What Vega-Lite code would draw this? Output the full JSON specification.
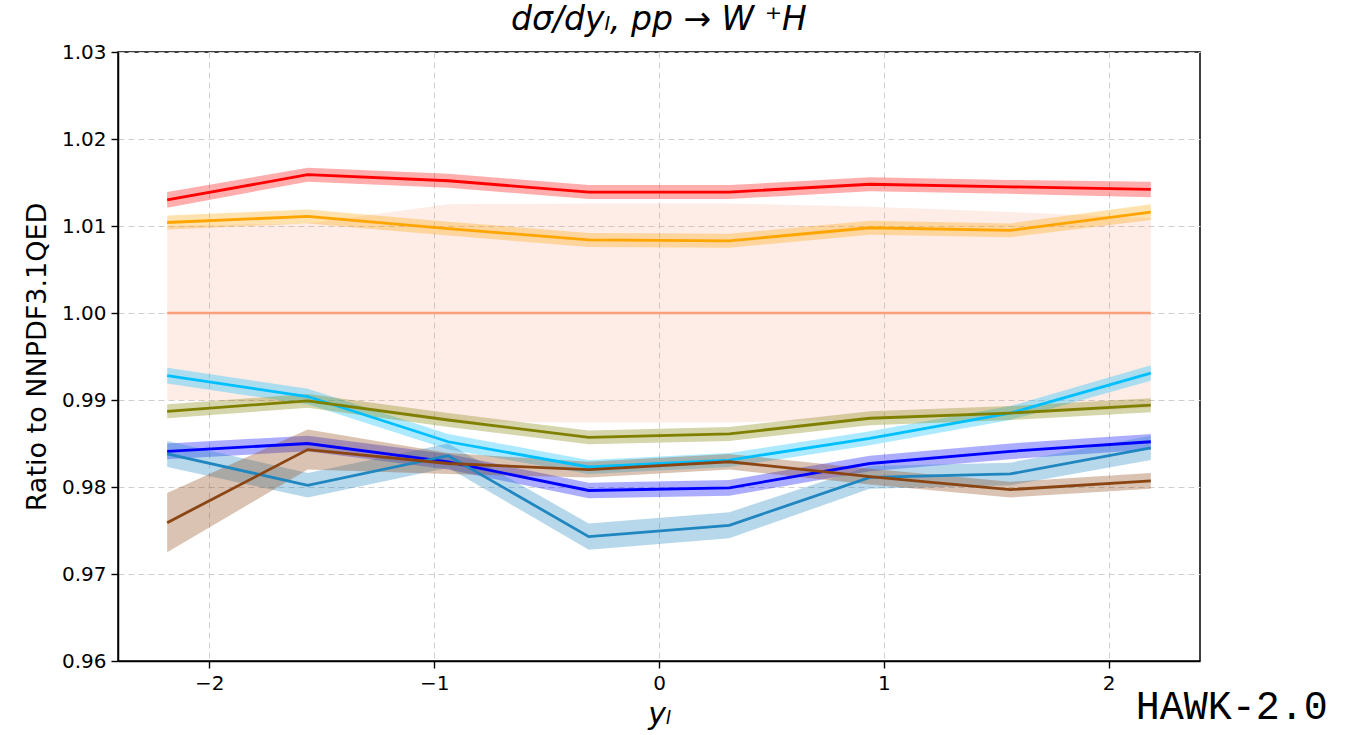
{
  "$schema": "https://vega.github.io/schema/vega-lite/v6.json",
  "width": 1082,
  "height": 609,
  "autosize": "none",
  "padding": {"left": 118, "top": 52, "right": 162, "bottom": 74},
  "background": "white",
  "title": {
    "text": "dσ/dyₗ,  pp → W ⁺H",
    "font": "DejaVu Sans",
    "fontSize": 33,
    "fontStyle": "italic",
    "fontWeight": "normal",
    "color": "black",
    "anchor": "middle",
    "offset": 5
  },
  "config": {
    "view": {"stroke": "black", "strokeWidth": 1.5},
    "axis": {
      "domainColor": "black",
      "domainWidth": 1.5,
      "tickColor": "black",
      "tickSize": 7,
      "tickWidth": 1.4,
      "labelColor": "black",
      "labelFont": "DejaVu Sans",
      "labelFontSize": 20,
      "titleFont": "DejaVu Sans",
      "titleColor": "black",
      "titleFontWeight": "normal",
      "gridColor": "#cfcfcf",
      "gridDash": [6, 4],
      "gridWidth": 1
    }
  },
  "datasets": {
    "central": [
      {"x": -2.1875, "y": 1.0, "lo": 0.9900, "hi": 1.0100},
      {"x": -1.5625, "y": 1.0, "lo": 0.9897, "hi": 1.0103},
      {"x": -0.9375, "y": 1.0, "lo": 0.9875, "hi": 1.0125},
      {"x": -0.3125, "y": 1.0, "lo": 0.9874, "hi": 1.0126},
      {"x": 0.3125, "y": 1.0, "lo": 0.9874, "hi": 1.0126},
      {"x": 0.9375, "y": 1.0, "lo": 0.9878, "hi": 1.0122},
      {"x": 1.5625, "y": 1.0, "lo": 0.9884, "hi": 1.0116},
      {"x": 2.1875, "y": 1.0, "lo": 0.9891, "hi": 1.0109}
    ],
    "sets": [
      {"series": "red", "x": -2.1875, "y": 1.0130, "lo": 1.0121, "hi": 1.0139},
      {"series": "red", "x": -1.5625, "y": 1.0159, "lo": 1.0151, "hi": 1.0167},
      {"series": "red", "x": -0.9375, "y": 1.0152, "lo": 1.0144, "hi": 1.0160},
      {"series": "red", "x": -0.3125, "y": 1.0139, "lo": 1.0131, "hi": 1.0147},
      {"series": "red", "x": 0.3125, "y": 1.0139, "lo": 1.0131, "hi": 1.0147},
      {"series": "red", "x": 0.9375, "y": 1.0148, "lo": 1.0140, "hi": 1.0156},
      {"series": "red", "x": 1.5625, "y": 1.0145, "lo": 1.0137, "hi": 1.0153},
      {"series": "red", "x": 2.1875, "y": 1.0142, "lo": 1.0133, "hi": 1.0151},

      {"series": "orange", "x": -2.1875, "y": 1.0104, "lo": 1.0096, "hi": 1.0112},
      {"series": "orange", "x": -1.5625, "y": 1.0111, "lo": 1.0103, "hi": 1.0119},
      {"series": "orange", "x": -0.9375, "y": 1.0097, "lo": 1.0089, "hi": 1.0105},
      {"series": "orange", "x": -0.3125, "y": 1.0084, "lo": 1.0076, "hi": 1.0092},
      {"series": "orange", "x": 0.3125, "y": 1.0083, "lo": 1.0075, "hi": 1.0091},
      {"series": "orange", "x": 0.9375, "y": 1.0098, "lo": 1.0090, "hi": 1.0106},
      {"series": "orange", "x": 1.5625, "y": 1.0095, "lo": 1.0087, "hi": 1.0103},
      {"series": "orange", "x": 2.1875, "y": 1.0116, "lo": 1.0107, "hi": 1.0125},

      {"series": "skyblue", "x": -2.1875, "y": 0.9928, "lo": 0.9919, "hi": 0.9937},
      {"series": "skyblue", "x": -1.5625, "y": 0.9904, "lo": 0.9895, "hi": 0.9913},
      {"series": "skyblue", "x": -0.9375, "y": 0.9852, "lo": 0.9843, "hi": 0.9861},
      {"series": "skyblue", "x": -0.3125, "y": 0.9823, "lo": 0.9815, "hi": 0.9831},
      {"series": "skyblue", "x": 0.3125, "y": 0.9831, "lo": 0.9823, "hi": 0.9839},
      {"series": "skyblue", "x": 0.9375, "y": 0.9856, "lo": 0.9848, "hi": 0.9864},
      {"series": "skyblue", "x": 1.5625, "y": 0.9885, "lo": 0.9877, "hi": 0.9893},
      {"series": "skyblue", "x": 2.1875, "y": 0.9931, "lo": 0.9922, "hi": 0.9940},

      {"series": "olive", "x": -2.1875, "y": 0.9887, "lo": 0.9879, "hi": 0.9895},
      {"series": "olive", "x": -1.5625, "y": 0.9899, "lo": 0.9891, "hi": 0.9907},
      {"series": "olive", "x": -0.9375, "y": 0.9877, "lo": 0.9869, "hi": 0.9885},
      {"series": "olive", "x": -0.3125, "y": 0.9857, "lo": 0.9849, "hi": 0.9865},
      {"series": "olive", "x": 0.3125, "y": 0.9861, "lo": 0.9853, "hi": 0.9869},
      {"series": "olive", "x": 0.9375, "y": 0.9879, "lo": 0.9871, "hi": 0.9887},
      {"series": "olive", "x": 1.5625, "y": 0.9885, "lo": 0.9877, "hi": 0.9893},
      {"series": "olive", "x": 2.1875, "y": 0.9894, "lo": 0.9886, "hi": 0.9902},

      {"series": "blue", "x": -2.1875, "y": 0.9841, "lo": 0.9832, "hi": 0.9850},
      {"series": "blue", "x": -1.5625, "y": 0.9850, "lo": 0.9841, "hi": 0.9859},
      {"series": "blue", "x": -0.9375, "y": 0.9829, "lo": 0.9820, "hi": 0.9838},
      {"series": "blue", "x": -0.3125, "y": 0.9796, "lo": 0.9787, "hi": 0.9805},
      {"series": "blue", "x": 0.3125, "y": 0.9799, "lo": 0.9790, "hi": 0.9808},
      {"series": "blue", "x": 0.9375, "y": 0.9827, "lo": 0.9818, "hi": 0.9836},
      {"series": "blue", "x": 1.5625, "y": 0.9841, "lo": 0.9832, "hi": 0.9850},
      {"series": "blue", "x": 2.1875, "y": 0.9852, "lo": 0.9843, "hi": 0.9861},

      {"series": "steel", "x": -2.1875, "y": 0.9838, "lo": 0.9823, "hi": 0.9853},
      {"series": "steel", "x": -1.5625, "y": 0.9802, "lo": 0.9788, "hi": 0.9816},
      {"series": "steel", "x": -0.9375, "y": 0.9836, "lo": 0.9822, "hi": 0.9850},
      {"series": "steel", "x": -0.3125, "y": 0.9743, "lo": 0.9728, "hi": 0.9758},
      {"series": "steel", "x": 0.3125, "y": 0.9756, "lo": 0.9741, "hi": 0.9771},
      {"series": "steel", "x": 0.9375, "y": 0.9811, "lo": 0.9798, "hi": 0.9824},
      {"series": "steel", "x": 1.5625, "y": 0.9815, "lo": 0.9802, "hi": 0.9828},
      {"series": "steel", "x": 2.1875, "y": 0.9845, "lo": 0.9831, "hi": 0.9859},

      {"series": "brown", "x": -2.1875, "y": 0.9759, "lo": 0.9725, "hi": 0.9793},
      {"series": "brown", "x": -1.5625, "y": 0.9843, "lo": 0.9820, "hi": 0.9866},
      {"series": "brown", "x": -0.9375, "y": 0.9827, "lo": 0.9815, "hi": 0.9839},
      {"series": "brown", "x": -0.3125, "y": 0.9820, "lo": 0.9811, "hi": 0.9829},
      {"series": "brown", "x": 0.3125, "y": 0.9829, "lo": 0.9820, "hi": 0.9838},
      {"series": "brown", "x": 0.9375, "y": 0.9812, "lo": 0.9803, "hi": 0.9821},
      {"series": "brown", "x": 1.5625, "y": 0.9797, "lo": 0.9788, "hi": 0.9806},
      {"series": "brown", "x": 2.1875, "y": 0.9807, "lo": 0.9798, "hi": 0.9816}
    ],
    "stamp": [{"label": "HAWK-2.0", "x": 2.12, "y": 0.96}]
  },
  "encoding": {
    "x": {
      "field": "x",
      "type": "quantitative",
      "scale": {"domain": [-2.40625, 2.40625], "nice": false, "zero": false},
      "axis": {
        "values": [-2, -1, 0, 1, 2],
        "format": "d",
        "title": "yₗ",
        "titleFontSize": 30,
        "titleFontStyle": "italic",
        "titlePadding": 6,
        "labelPadding": 5
      }
    },
    "y": {
      "field": "y",
      "type": "quantitative",
      "scale": {"domain": [0.96, 1.03], "nice": false, "zero": false},
      "axis": {
        "values": [0.96, 0.97, 0.98, 0.99, 1.0, 1.01, 1.02, 1.03],
        "format": ".2f",
        "title": "Ratio to NNPDF3.1QED",
        "titleFontSize": 27,
        "titlePadding": 10,
        "labelPadding": 5
      }
    }
  },
  "layer": [
    {
      "data": {"name": "central"},
      "mark": {"type": "area", "color": "#fa8a6a", "opacity": 0.16},
      "encoding": {"y": {"field": "lo", "type": "quantitative"}, "y2": {"field": "hi"}}
    },
    {
      "data": {"name": "central"},
      "mark": {"type": "line", "color": "#ffa07a", "strokeWidth": 2.5},
      "encoding": {}
    },
    {
      "data": {"name": "sets"},
      "mark": {"type": "area", "opacity": 0.32},
      "encoding": {
        "y": {"field": "lo", "type": "quantitative"},
        "y2": {"field": "hi"},
        "color": {
          "field": "series",
          "type": "nominal",
          "scale": {
            "domain": ["red", "orange", "skyblue", "olive", "blue", "steel", "brown"],
            "range": ["#ff0000", "#ffa500", "#00bfff", "#808000", "#0000ff", "#1f86c0", "#8b4513"]
          },
          "legend": null
        }
      }
    },
    {
      "data": {"name": "sets"},
      "mark": {"type": "line", "strokeWidth": 2.8},
      "encoding": {
        "color": {"field": "series", "type": "nominal", "legend": null}
      }
    },
    {
      "data": {"name": "stamp"},
      "mark": {
        "type": "text",
        "font": "Liberation Mono",
        "fontSize": 40,
        "align": "left",
        "baseline": "alphabetic",
        "color": "black",
        "dy": 58,
        "clip": false
      },
      "encoding": {
        "text": {"field": "label", "type": "nominal"}
      }
    }
  ]
}
